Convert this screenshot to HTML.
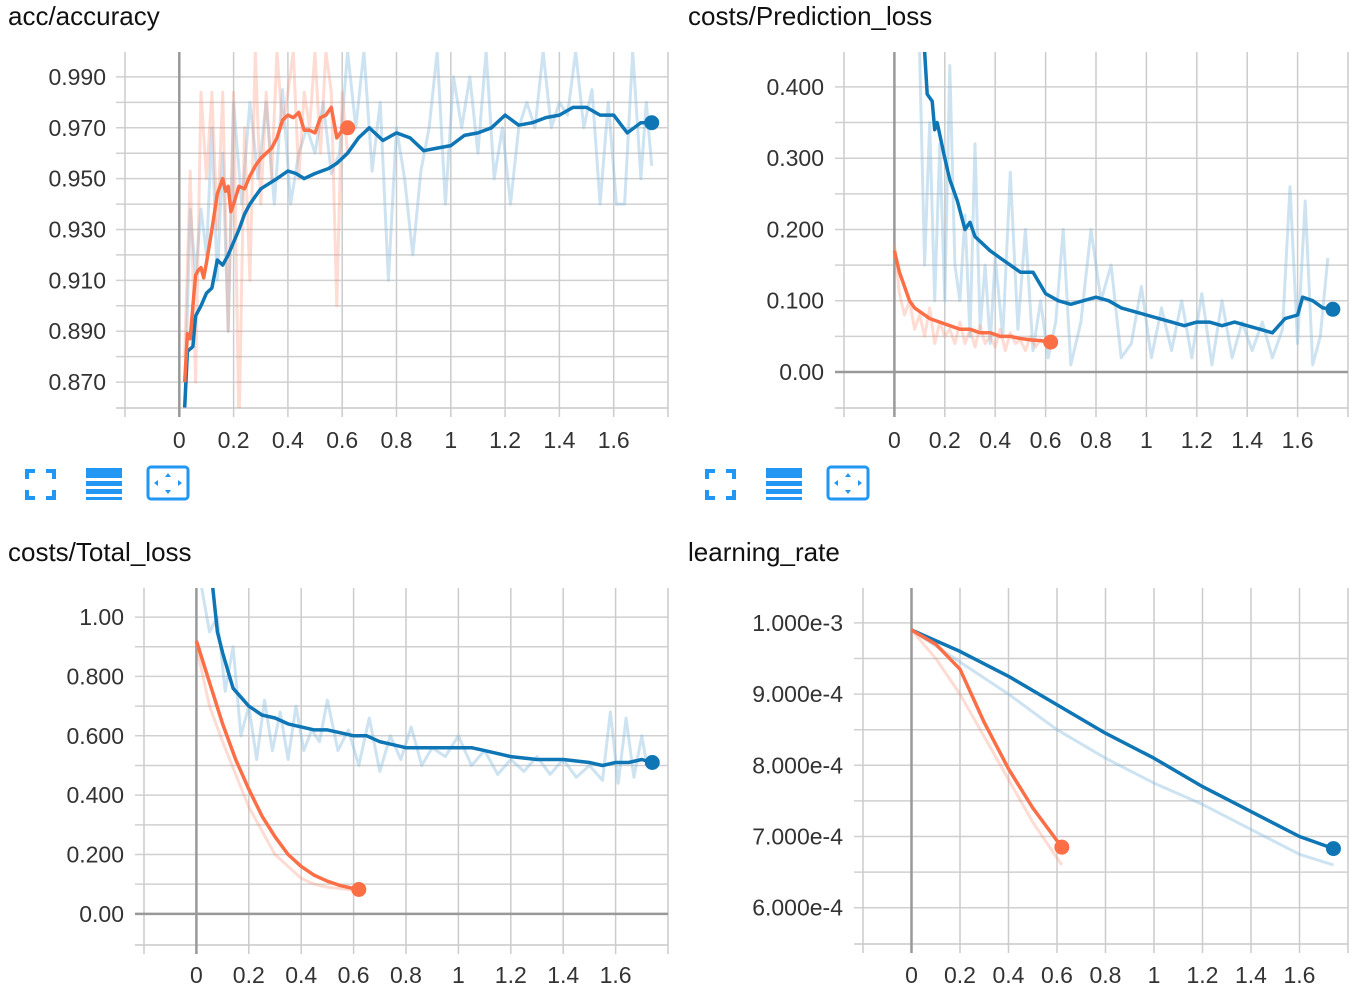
<!DOCTYPE html>
<html><head><meta charset="utf-8">
<style>
html,body{margin:0;padding:0;background:#fff;}
body{width:1366px;height:994px;position:relative;overflow:hidden;font-family:"Liberation Sans",sans-serif;}
.title{position:absolute;font-size:26px;color:#111;}
.icon{position:absolute;}
svg text{font-family:"Liberation Sans",sans-serif;font-size:23px;fill:#333;}
</style></head><body>
<div class="title" style="left:8px;top:1px">acc/accuracy</div>
<div class="title" style="left:688px;top:1px">costs/Prediction_loss</div>
<div class="title" style="left:8px;top:537px">costs/Total_loss</div>
<div class="title" style="left:688px;top:537px">learning_rate</div>
<svg id="s" width="1366" height="994" style="position:absolute;left:0;top:0"></svg>
<svg class="icon" width="200" height="40" style="left:20px;top:464px">
<g fill="none" stroke="#2196f3" stroke-width="4"><path d="M7 15V7h8M26 7h8v8M34 26v8h-8M15 34H7v-8"/></g>
<g fill="#2196f3"><rect x="66" y="4" width="36" height="10"/><rect x="66" y="17" width="36" height="5"/><rect x="66" y="25" width="36" height="5"/><rect x="66" y="33" width="36" height="3"/></g>
<g><rect x="128" y="3" width="40" height="32" rx="3" fill="none" stroke="#2196f3" stroke-width="3"/><path d="M148 9l-3 4h6zM148 30l-3-4h6zM134 19l4-3v6zM162 19l-4-3v6z" fill="#2196f3"/></g>
</svg>
<svg class="icon" width="200" height="40" style="left:700px;top:464px">
<g fill="none" stroke="#2196f3" stroke-width="4"><path d="M7 15V7h8M26 7h8v8M34 26v8h-8M15 34H7v-8"/></g>
<g fill="#2196f3"><rect x="66" y="4" width="36" height="10"/><rect x="66" y="17" width="36" height="5"/><rect x="66" y="25" width="36" height="5"/><rect x="66" y="33" width="36" height="3"/></g>
<g><rect x="128" y="3" width="40" height="32" rx="3" fill="none" stroke="#2196f3" stroke-width="3"/><path d="M148 9l-3 4h6zM148 30l-3-4h6zM134 19l4-3v6zM162 19l-4-3v6z" fill="#2196f3"/></g>
</svg>
<script>
// ---- acc/accuracy data ----
const accBlueX=[0.02,0.03,0.05,0.06,0.08,0.1,0.12,0.14,0.16,0.18,0.2,0.22,0.24,0.26,0.28,0.3,0.33,0.36,0.4,0.43,0.46,0.5,0.55,0.58,0.62,0.66,0.7,0.75,0.8,0.85,0.9,0.95,1.0,1.05,1.1,1.15,1.2,1.25,1.3,1.35,1.4,1.45,1.5,1.55,1.6,1.65,1.7,1.74];
const accBlueY=[0.86,0.882,0.884,0.896,0.9,0.905,0.907,0.918,0.916,0.92,0.925,0.93,0.936,0.94,0.943,0.946,0.948,0.95,0.953,0.952,0.95,0.952,0.954,0.956,0.96,0.966,0.97,0.965,0.968,0.966,0.961,0.962,0.963,0.967,0.968,0.97,0.975,0.971,0.972,0.974,0.975,0.978,0.978,0.975,0.975,0.968,0.972,0.972];
const accOrX=[0.02,0.03,0.04,0.05,0.06,0.07,0.08,0.09,0.1,0.12,0.14,0.15,0.16,0.17,0.18,0.19,0.2,0.22,0.24,0.26,0.28,0.3,0.32,0.34,0.36,0.38,0.4,0.42,0.44,0.46,0.48,0.5,0.52,0.54,0.56,0.58,0.6,0.62];
const accOrY=[0.87,0.889,0.887,0.9,0.912,0.914,0.915,0.911,0.917,0.93,0.944,0.947,0.95,0.945,0.947,0.937,0.94,0.947,0.946,0.951,0.955,0.958,0.96,0.962,0.966,0.973,0.975,0.974,0.976,0.969,0.969,0.968,0.974,0.975,0.978,0.966,0.969,0.97];
const accBlueRawX=[0.02,0.04,0.06,0.08,0.1,0.12,0.14,0.16,0.18,0.2,0.23,0.26,0.29,0.32,0.35,0.38,0.41,0.44,0.47,0.5,0.53,0.56,0.59,0.62,0.65,0.68,0.71,0.74,0.77,0.8,0.83,0.86,0.89,0.92,0.95,0.98,1.01,1.04,1.07,1.1,1.13,1.16,1.19,1.22,1.25,1.28,1.31,1.34,1.37,1.4,1.43,1.46,1.49,1.52,1.55,1.58,1.61,1.64,1.67,1.7,1.72,1.74];
const accBlueRawY=[0.86,0.938,0.912,0.938,0.92,0.97,0.91,0.96,0.89,0.98,0.94,0.98,0.95,0.98,0.94,0.985,0.94,0.96,0.97,0.96,0.98,0.952,0.96,1.0,0.97,1.0,0.953,0.98,0.91,0.97,0.95,0.92,0.953,0.97,1.0,0.94,0.99,0.97,0.99,0.96,1.0,0.95,0.97,0.94,0.97,0.98,0.97,1.0,0.97,0.98,0.975,1.0,0.97,0.985,0.94,0.98,0.94,0.94,1.0,0.95,0.98,0.955];
const accOrRawX=[0.02,0.04,0.06,0.08,0.1,0.12,0.14,0.16,0.18,0.2,0.22,0.24,0.26,0.28,0.3,0.32,0.34,0.36,0.38,0.4,0.42,0.44,0.46,0.48,0.5,0.52,0.54,0.56,0.58,0.6,0.62];
const accOrRawY=[0.88,0.953,0.87,0.984,0.95,0.984,0.93,0.984,0.89,0.984,0.85,0.97,0.91,1.0,0.94,0.984,0.95,1.0,0.97,0.984,1.0,0.95,0.984,0.97,1.0,0.96,1.0,0.984,0.9,0.984,0.96];
// ---- prediction loss data ----
const plBlueX=[0.12,0.13,0.15,0.16,0.17,0.2,0.22,0.25,0.28,0.3,0.32,0.35,0.38,0.42,0.46,0.5,0.55,0.6,0.65,0.7,0.75,0.8,0.85,0.9,0.95,1.0,1.05,1.1,1.15,1.2,1.25,1.3,1.35,1.4,1.45,1.5,1.55,1.6,1.62,1.66,1.7,1.74];
const plBlueY=[0.45,0.39,0.38,0.34,0.35,0.3,0.27,0.24,0.2,0.21,0.19,0.18,0.17,0.16,0.15,0.14,0.14,0.11,0.1,0.095,0.1,0.105,0.1,0.09,0.085,0.08,0.075,0.07,0.065,0.07,0.07,0.065,0.07,0.065,0.06,0.055,0.075,0.08,0.105,0.1,0.09,0.088];
const plOrX=[0,0.02,0.04,0.06,0.08,0.1,0.14,0.18,0.22,0.26,0.3,0.34,0.38,0.42,0.46,0.5,0.54,0.58,0.62];
const plOrY=[0.17,0.14,0.12,0.1,0.09,0.085,0.075,0.07,0.065,0.06,0.06,0.055,0.055,0.05,0.05,0.047,0.045,0.044,0.042];
const plBlueRawX=[0.1,0.12,0.14,0.16,0.18,0.2,0.22,0.24,0.26,0.28,0.3,0.32,0.34,0.36,0.38,0.4,0.43,0.46,0.49,0.52,0.55,0.58,0.61,0.64,0.67,0.7,0.74,0.78,0.82,0.86,0.9,0.94,0.98,1.02,1.06,1.1,1.14,1.18,1.22,1.26,1.3,1.34,1.38,1.42,1.46,1.5,1.54,1.57,1.6,1.63,1.66,1.69,1.72];
const plBlueRawY=[0.45,0.15,0.35,0.1,0.32,0.1,0.43,0.15,0.1,0.22,0.05,0.32,0.06,0.15,0.04,0.16,0.05,0.28,0.06,0.2,0.03,0.1,0.02,0.07,0.2,0.01,0.07,0.2,0.1,0.15,0.02,0.04,0.12,0.02,0.09,0.03,0.1,0.02,0.11,0.01,0.1,0.02,0.07,0.03,0.07,0.02,0.06,0.26,0.04,0.24,0.01,0.05,0.16];
const plOrRawX=[0,0.02,0.04,0.06,0.08,0.1,0.12,0.14,0.16,0.18,0.2,0.22,0.24,0.26,0.28,0.3,0.32,0.34,0.36,0.38,0.4,0.42,0.44,0.46,0.48,0.5,0.52,0.54,0.56,0.58,0.6,0.62];
const plOrRawY=[0.18,0.11,0.08,0.1,0.06,0.08,0.05,0.09,0.04,0.07,0.05,0.06,0.04,0.07,0.04,0.06,0.035,0.065,0.04,0.05,0.035,0.06,0.03,0.055,0.04,0.045,0.03,0.05,0.035,0.045,0.04,0.04];
// ---- total loss data ----
const tlBlueX=[0.02,0.06,0.08,0.1,0.12,0.14,0.16,0.18,0.2,0.25,0.3,0.35,0.4,0.45,0.5,0.55,0.6,0.65,0.7,0.75,0.8,0.85,0.9,1.0,1.05,1.1,1.15,1.2,1.3,1.4,1.5,1.55,1.6,1.65,1.7,1.74];
const tlBlueY=[1.12,1.12,0.95,0.88,0.82,0.76,0.74,0.72,0.7,0.67,0.66,0.64,0.63,0.62,0.62,0.61,0.6,0.6,0.58,0.57,0.56,0.56,0.56,0.56,0.56,0.55,0.54,0.53,0.52,0.52,0.51,0.5,0.51,0.51,0.52,0.51];
const tlOrX=[0,0.05,0.1,0.15,0.2,0.25,0.3,0.35,0.4,0.45,0.5,0.55,0.6,0.62];
const tlOrY=[0.92,0.78,0.64,0.52,0.42,0.33,0.26,0.2,0.16,0.13,0.11,0.095,0.085,0.082];
const tlBlueRawX=[0.02,0.05,0.08,0.11,0.14,0.17,0.2,0.23,0.26,0.29,0.32,0.35,0.38,0.41,0.44,0.47,0.5,0.54,0.58,0.62,0.66,0.7,0.74,0.78,0.82,0.86,0.9,0.95,1.0,1.05,1.1,1.15,1.2,1.25,1.3,1.35,1.4,1.45,1.5,1.55,1.58,1.61,1.64,1.67,1.7,1.72];
const tlBlueRawY=[1.1,0.95,1.0,0.75,0.9,0.6,0.7,0.52,0.72,0.55,0.68,0.52,0.7,0.55,0.62,0.58,0.72,0.55,0.62,0.5,0.66,0.48,0.6,0.52,0.63,0.5,0.56,0.53,0.6,0.5,0.55,0.47,0.52,0.48,0.53,0.47,0.52,0.46,0.5,0.45,0.68,0.44,0.66,0.46,0.6,0.5];
const tlOrRawX=[0,0.05,0.1,0.15,0.2,0.25,0.3,0.35,0.4,0.45,0.5,0.55,0.6];
const tlOrRawY=[0.9,0.7,0.58,0.47,0.36,0.28,0.2,0.16,0.12,0.1,0.09,0.085,0.08];
// ---- learning rate data ----
const lrBlueX=[0,0.2,0.4,0.6,0.8,1.0,1.2,1.4,1.6,1.74];
const lrBlueY=[9.9e-4,9.6e-4,9.25e-4,8.85e-4,8.45e-4,8.1e-4,7.7e-4,7.35e-4,7.0e-4,6.83e-4];
const lrBlueRawY=[9.9e-4,9.45e-4,9.0e-4,8.5e-4,8.1e-4,7.75e-4,7.45e-4,7.1e-4,6.75e-4,6.6e-4];
const lrOrX=[0,0.1,0.2,0.3,0.4,0.5,0.62];
const lrOrY=[9.9e-4,9.7e-4,9.35e-4,8.6e-4,7.95e-4,7.4e-4,6.85e-4];
const lrOrRawY=[9.9e-4,9.5e-4,9.0e-4,8.4e-4,7.8e-4,7.2e-4,6.6e-4];

const xTicks=[0,0.2,0.4,0.6,0.8,1,1.2,1.4,1.6];
const accYTicks=[0.87,0.89,0.91,0.93,0.95,0.97,0.99];
const plYTicks=[0,0.1,0.2,0.3,0.4];
const tlYTicks=[0,0.2,0.4,0.6,0.8,1.0];
const lrYTicks=[6e-4,7e-4,8e-4,9e-4,1e-3];

const NS='http://www.w3.org/2000/svg';
const S=document.getElementById('s');
function mk(tag,attrs,parent){const e=document.createElementNS(NS,tag);for(const k in attrs)e.setAttribute(k,attrs[k]);(parent||S).appendChild(e);return e;}
const BLUE='#0f76b5',ORANGE='#fc6e46',LBLUE='rgba(130,185,220,0.4)',LORANGE='rgba(252,140,110,0.3)';

function chart(name,L,R,T,B,x0,x1,y0,y1,yTicks,yFmt,yStep,zeroLine,labelX,xLabY){
  const g=mk('g',{});
  
  
  const sx=v=>L+(v-x0)/(x1-x0)*(R-L), sy=v=>B-(v-y0)/(y1-y0)*(B-T);
  const start=Math.ceil((y0+1e-12)/yStep)*yStep;
  for(let v=start;v<=y1+1e-12;v+=yStep){const y=sy(v);if(Math.abs(y-B)<3)continue;mk('line',{x1:L-9,x2:R,y1:y,y2:y,stroke:'#d0d0d0','stroke-width':1.5},g);}
  mk('line',{x1:L-9,x2:R,y1:B,y2:B,stroke:'#c8c8c8','stroke-width':1.5},g);
  for(let v=x0;v<=x1+1e-9;v+=0.2){const x=sx(v);mk('line',{x1:x,x2:x,y1:T,y2:B+9,stroke:'#cccccc','stroke-width':1.5},g);}
  mk('line',{x1:sx(0),x2:sx(0),y1:T,y2:B+9,stroke:'#999','stroke-width':2.5},g);
  if(zeroLine) mk('line',{x1:L-9,x2:R,y1:sy(0),y2:sy(0),stroke:'#999','stroke-width':2.5},g);
  yTicks.forEach(v=>{const t=mk('text',{x:labelX,y:sy(v)+8,'text-anchor':'end'},g);t.textContent=yFmt(v);});
  xTicks.forEach(v=>{const t=mk('text',{x:sx(v),y:xLabY,'text-anchor':'middle'},g);t.textContent=String(v);});
  const cid='c'+name;const cp=mk('clipPath',{id:cid},g);mk('rect',{x:L,y:T,width:R-L,height:B-T},cp);
  const lg=mk('g',{'clip-path':'url(#'+cid+')'},g);
  return {sx,sy,lg};
}
function line(c,xs,ys,color,w,name,dot){
  const d=xs.map((x,i)=>(i?'L':'M')+c.sx(x).toFixed(1)+' '+c.sy(ys[i]).toFixed(1)).join('');
  const p=mk('path',{d,fill:'none',stroke:color,'stroke-width':w,'stroke-linejoin':'round'},c.lg);
  
  
  if(dot){const e=mk('circle',{cx:c.sx(xs[xs.length-1]),cy:c.sy(ys[ys.length-1]),r:7.5,fill:color});
    
    }
}
c=chart('accuracy-chart',125,668,52,408,-0.2,1.8,0.8598,0.9998,accYTicks,v=>v.toFixed(3),0.01,false,106,448);
line(c,accBlueRawX,accBlueRawY,LBLUE,3,'accuracy-blue-raw');
line(c,accOrRawX,accOrRawY,LORANGE,3,'accuracy-orange-raw');
line(c,accBlueX,accBlueY,BLUE,3.5,'accuracy-blue-smoothed',true);
line(c,accOrX,accOrY,ORANGE,3.5,'accuracy-orange-smoothed',true);
c=chart('prediction-loss-chart',844,1348,52,408,-0.2,1.8,-0.0505,0.449,plYTicks,v=>v===0?'0.00':v.toFixed(3),0.05,true,824,448);
line(c,plBlueRawX,plBlueRawY,LBLUE,3,'prediction-loss-blue-raw');
line(c,plOrRawX,plOrRawY,LORANGE,3,'prediction-loss-orange-raw');
line(c,plBlueX,plBlueY,BLUE,3.5,'prediction-loss-blue-smoothed',true);
line(c,plOrX,plOrY,ORANGE,3.5,'prediction-loss-orange-smoothed',true);
c=chart('total-loss-chart',144,668,588,945,-0.2,1.8,-0.105,1.098,tlYTicks,v=>v===0?'0.00':(v===1?'1.00':v.toFixed(3)),0.1,true,124,983);
line(c,tlBlueRawX,tlBlueRawY,LBLUE,3,'total-loss-blue-raw');
line(c,tlOrRawX,tlOrRawY,LORANGE,3,'total-loss-orange-raw');
line(c,tlBlueX,tlBlueY,BLUE,3.5,'total-loss-blue-smoothed',true);
line(c,tlOrX,tlOrY,ORANGE,3.5,'total-loss-orange-smoothed',true);
c=chart('learning-rate-chart',863,1348,588,944,-0.2,1.8,5.49e-4,10.49e-4,lrYTicks,v=>(v>=9.99e-4?'1.000e-3':(v*1e4).toFixed(3)+'e-4'),0.5e-4,false,843,983);
line(c,lrBlueX,lrBlueRawY,LBLUE,3,'learning-rate-blue-raw');
line(c,lrOrX,lrOrRawY,LORANGE,3,'learning-rate-orange-raw');
line(c,lrBlueX,lrBlueY,BLUE,3.5,'learning-rate-blue-smoothed',true);
line(c,lrOrX,lrOrY,ORANGE,3.5,'learning-rate-orange-smoothed',true);
</script>
</body></html>
